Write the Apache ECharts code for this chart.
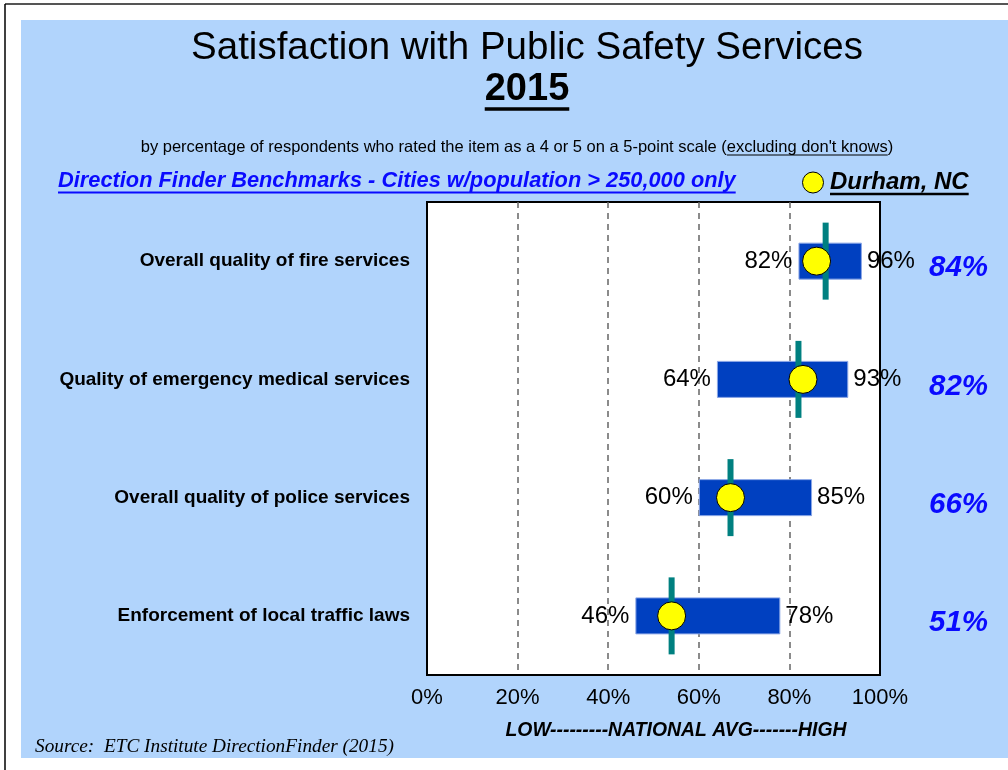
<!DOCTYPE html>
<html><head><meta charset="utf-8">
<script src="https://cdn.jsdelivr.net/npm/echarts@6/dist/echarts.min.js"></script>
<style>html,body{margin:0;padding:0;background:#fff}#c{width:1008px;height:770px}</style>
</head><body><div id="c"></div><script>
const categories = ['Overall quality of fire services','Quality of emergency medical services','Overall quality of police services','Enforcement of local traffic laws'];
const lowValues = [82, 64, 60, 46];
const highValues = [96, 93, 85, 78];
const nationalAvg = [88, 82, 67, 54];
const durhamMarker = [86, 83, 67, 54];
const durhamLabels = [84, 82, 66, 51];
const xTicks = [0, 20, 40, 60, 80, 100];

const SANS = '"Liberation Sans", Arial, sans-serif';
const SERIF = '"Liberation Serif", "Times New Roman", serif';
const mctx = document.createElement('canvas').getContext('2d');
function tw(text, font){ mctx.font = font; return mctx.measureText(text).width; }

const titleFont = 'normal 38.5px ' + SANS;
const yearFont = 'bold 38px ' + SANS;
const subFont = 'normal 16.5px ' + SANS;
const linkFont = 'italic bold 21.8px ' + SANS;
const durFont = 'italic bold 24px ' + SANS;
const lowFont = 'italic bold 19.4px ' + SANS;
const srcFont = 'italic 19.3px ' + SERIF;

const subPre = 'by percentage of respondents who rated the item as a 4 or 5 on a 5-point scale (';
const subU = "excluding don't knows";
const subPost = ')';
const subFull = subPre + subU + subPost;
const subCx = 517;
const subLeft = subCx - tw(subFull, subFont) / 2;
const subUx = subLeft + tw(subPre, subFont);
const subUw = tw(subU, subFont);

const yearW = tw('2015', yearFont);
const linkText = 'Direction Finder Benchmarks - Cities w/population > 250,000 only';
const linkW = tw(linkText, linkFont);
const durText = 'Durham, NC';
const durW = tw(durText, durFont);
const linkColor = '#0a0aff';

const graphics = [
  {type:'rect', z:-10, silent:true, shape:{x:21, y:20, width:987, height:738}, style:{fill:'#b1d4fc'}},
  {type:'line', z:-9, silent:true, shape:{x1:5, y1:4, x2:1008, y2:4}, style:{stroke:'#555', lineWidth:2}},
  {type:'line', z:-9, silent:true, shape:{x1:5, y1:4, x2:5, y2:770}, style:{stroke:'#000', lineWidth:1.5}},
  {type:'text', style:{text:'Satisfaction with Public Safety Services', x:527, y:48, font:titleFont, fill:'#000', textAlign:'center', textVerticalAlign:'middle'}},
  {type:'text', style:{text:'2015', x:527, y:90, font:yearFont, fill:'#000', textAlign:'center', textVerticalAlign:'middle'}},
  {type:'line', shape:{x1:527 - yearW/2, y1:109, x2:527 + yearW/2, y2:109}, style:{stroke:'#000', lineWidth:3.5}},
  {type:'text', style:{text:subFull, x:subCx, y:147, font:subFont, fill:'#000', textAlign:'center', textVerticalAlign:'middle'}},
  {type:'line', shape:{x1:subUx, y1:155, x2:subUx + subUw, y2:155}, style:{stroke:'#000', lineWidth:1.2}},
  {type:'text', style:{text:linkText, x:58, y:181, font:linkFont, fill:linkColor, textAlign:'left', textVerticalAlign:'middle'}},
  {type:'line', shape:{x1:58, y1:192.5, x2:58 + linkW, y2:192.5}, style:{stroke:linkColor, lineWidth:2}},
  {type:'circle', shape:{cx:813, cy:182.5, r:10.5}, style:{fill:'#ffff00', stroke:'#000', lineWidth:1}},
  {type:'text', style:{text:durText, x:830, y:182, font:durFont, fill:'#000', textAlign:'left', textVerticalAlign:'middle'}},
  {type:'line', shape:{x1:830, y1:194, x2:830 + durW, y2:194}, style:{stroke:'#000', lineWidth:2.5}},
  {type:'text', style:{text:'LOW---------NATIONAL AVG-------HIGH', x:676, y:731, font:lowFont, fill:'#000', textAlign:'center', textVerticalAlign:'middle'}},
  {type:'text', style:{text:'Source:  ETC Institute DirectionFinder (2015)', x:35, y:747, font:srcFont, fill:'#000', textAlign:'left', textVerticalAlign:'middle'}}
];

const chart = echarts.init(document.getElementById('c'), null, {renderer:'canvas'});
chart.setOption({
  animation: false,
  backgroundColor: '#ffffff',
  graphic: graphics,
  grid: {left:427, top:202, width:453, height:473, show:true, backgroundColor:'#ffffff', borderColor:'#000', borderWidth:2},
  xAxis: {
    type:'value', min:xTicks[0], max:xTicks[xTicks.length-1], interval:xTicks[1]-xTicks[0],
    axisLine:{show:false}, axisTick:{show:false},
    axisLabel:{formatter:'{value}%', fontSize:22, color:'#000', fontFamily:SANS, margin:12},
    splitLine:{show:true, showMinLine:false, showMaxLine:false, lineStyle:{color:'#666', type:[6,5], width:1.5}}
  },
  yAxis: [
    {type:'category', inverse:true, data:categories,
     axisLine:{show:false}, axisTick:{show:false}, splitLine:{show:false},
     axisLabel:{fontSize:19, fontWeight:'bold', color:'#000', fontFamily:SANS, margin:17}},
    {type:'category', inverse:true, position:'right', data:durhamLabels.map(v => v + '%'),
     axisLine:{show:false}, axisTick:{show:false}, splitLine:{show:false},
     axisLabel:{fontSize:29.5, fontWeight:'bold', fontStyle:'italic', color:linkColor, fontFamily:SANS, margin:49, verticalAlign:'top', lineHeight:14}}
  ],
  series: [
    {type:'bar', stack:'r', data:lowValues, barWidth:37, silent:true,
     itemStyle:{color:'rgba(0,0,0,0)'},
     label:{show:true, position:'insideRight', distance:6, formatter:p => p.value + '%', fontSize:24, color:'#000', fontFamily:SANS}},
    {type:'bar', stack:'r', data:highValues.map((h,i) => h - lowValues[i]), barWidth:37,
     itemStyle:{color:'#0040c0', borderColor:'#8aa6e6', borderWidth:1},
     label:{show:true, position:'right', distance:5, formatter:p => highValues[p.dataIndex] + '%', fontSize:24, color:'#000', fontFamily:SANS}},
    {type:'scatter', data:nationalAvg.map((v,i) => [v,i]), symbol:'rect', symbolSize:[6,77], z:3,
     itemStyle:{color:'#008080', opacity:1}},
    {type:'scatter', data:durhamMarker.map((v,i) => [v,i]), symbol:'circle', symbolSize:28, z:4,
     itemStyle:{color:'#ffff00', borderColor:'#000', borderWidth:1, opacity:1}}
  ]
});
</script></body></html>
